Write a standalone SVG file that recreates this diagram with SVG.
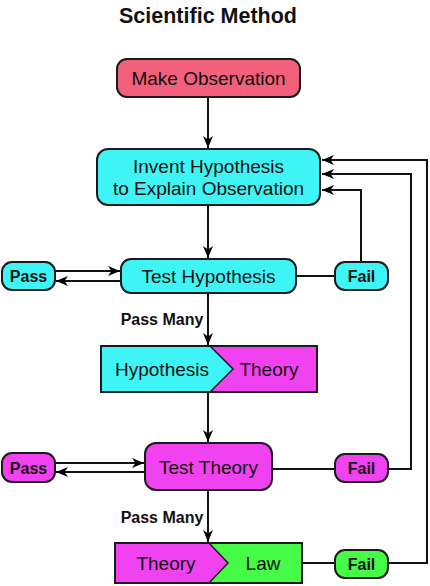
<svg xmlns="http://www.w3.org/2000/svg" width="430" height="586" viewBox="0 0 430 586">
<defs>
<marker id="ah" markerUnits="userSpaceOnUse" markerWidth="13" markerHeight="11" refX="12" refY="5" orient="auto">
<path d="M0,0 L12,5 L0,10 L3.5,5 Z" fill="#000"/>
</marker>
<style>
.box{stroke:#1a1a1a;stroke-width:2}
.cy{fill:#3ff4f4}
.mg{fill:#f042f0}
.gr{fill:#46fb46}
.pk{fill:#f2607c}
.t{font-family:"Liberation Sans",Arial,sans-serif;font-size:19px;fill:#111;text-anchor:middle}
.b{font-family:"Liberation Sans",Arial,sans-serif;font-weight:bold;font-size:16px;fill:#111;text-anchor:middle}
.c{fill:none;stroke:#111;stroke-width:2}
</style>
</defs>
<rect width="430" height="586" fill="#fff"/>
<text x="208" y="23" class="t" style="font-weight:bold;font-size:21.5px">Scientific Method</text>

<g id="connectors">
<line class="c" x1="208" y1="97" x2="208" y2="148" marker-end="url(#ah)"/>
<line class="c" x1="208" y1="205" x2="208" y2="258" marker-end="url(#ah)"/>
<line class="c" x1="55" y1="271" x2="120" y2="271" marker-end="url(#ah)"/>
<line class="c" x1="121" y1="281" x2="56" y2="281" marker-end="url(#ah)"/>
<line class="c" x1="296" y1="276" x2="335" y2="276"/>
<polyline class="c" points="361,262 361,190 322,190" marker-end="url(#ah)"/>
<line class="c" x1="208" y1="293" x2="208" y2="345" marker-end="url(#ah)"/>
<line class="c" x1="208" y1="392" x2="208" y2="442" marker-end="url(#ah)"/>
<line class="c" x1="55" y1="463" x2="144" y2="463" marker-end="url(#ah)"/>
<line class="c" x1="145" y1="472" x2="56" y2="472" marker-end="url(#ah)"/>
<line class="c" x1="272" y1="469" x2="335" y2="469"/>
<polyline class="c" points="388,469 411,469 411,174 322,174" marker-end="url(#ah)"/>
<line class="c" x1="208" y1="490" x2="208" y2="542" marker-end="url(#ah)"/>
<line class="c" x1="302" y1="563" x2="335" y2="563"/>
<polyline class="c" points="388,563 427,563 427,160 322,160" marker-end="url(#ah)"/>
</g>

<g id="make-observation">
<rect class="box pk" x="117" y="59" width="183" height="38" rx="10"/>
<text class="t" x="208.5" y="84.5">Make Observation</text>
</g>

<g id="invent-hypothesis">
<rect class="box cy" x="97" y="149" width="223" height="56" rx="11"/>
<text class="t" x="208.5" y="172.5">Invent Hypothesis</text>
<text class="t" x="208.5" y="194.5">to Explain Observation</text>
</g>

<g id="test-hypothesis">
<rect class="box cy" x="121" y="259" width="175" height="34" rx="10"/>
<text class="t" x="208.5" y="283">Test Hypothesis</text>
</g>

<g id="pass-1">
<rect class="box cy" x="2" y="262" width="53" height="28" rx="10"/>
<text class="b" x="28.5" y="282">Pass</text>
</g>

<g id="fail-1">
<rect class="box cy" x="335" y="262" width="53" height="28" rx="10"/>
<text class="b" x="361.5" y="282">Fail</text>
</g>

<text class="b" x="162" y="325">Pass Many</text>

<g id="hypothesis-theory">
<rect class="mg" x="101" y="346" width="216" height="46"/>
<polygon class="cy" points="101,346 210,346 233,369 210,392 101,392"/>
<polyline points="210,346 233,369 210,392" fill="none" stroke="#1a1a1a" stroke-width="1.5"/>
<rect x="101" y="346" width="216" height="46" fill="none" stroke="#1a1a1a" stroke-width="2"/>
<text class="t" x="162" y="376">Hypothesis</text>
<text class="t" x="269" y="376">Theory</text>
</g>

<g id="test-theory">
<rect class="box mg" x="145" y="443" width="127" height="47" rx="11"/>
<text class="t" x="208.5" y="474">Test Theory</text>
</g>

<g id="pass-2">
<rect class="box mg" x="2" y="453" width="53" height="29" rx="10"/>
<text class="b" x="28.5" y="473.5">Pass</text>
</g>

<g id="fail-2">
<rect class="box mg" x="335" y="454" width="53" height="28" rx="10"/>
<text class="b" x="361.5" y="474">Fail</text>
</g>

<text class="b" x="162" y="523">Pass Many</text>

<g id="theory-law">
<rect class="gr" x="115" y="543" width="187" height="40"/>
<polygon class="mg" points="115,543 209,543 228,563 209,583 115,583"/>
<polyline points="209,543 228,563 209,583" fill="none" stroke="#1a1a1a" stroke-width="1.5"/>
<rect x="115" y="543" width="187" height="40" fill="none" stroke="#1a1a1a" stroke-width="2"/>
<text class="t" x="166" y="570">Theory</text>
<text class="t" x="263" y="570">Law</text>
</g>

<g id="fail-3">
<rect class="box gr" x="335" y="550" width="53" height="28" rx="10"/>
<text class="b" x="361.5" y="569.5">Fail</text>
</g>
</svg>
